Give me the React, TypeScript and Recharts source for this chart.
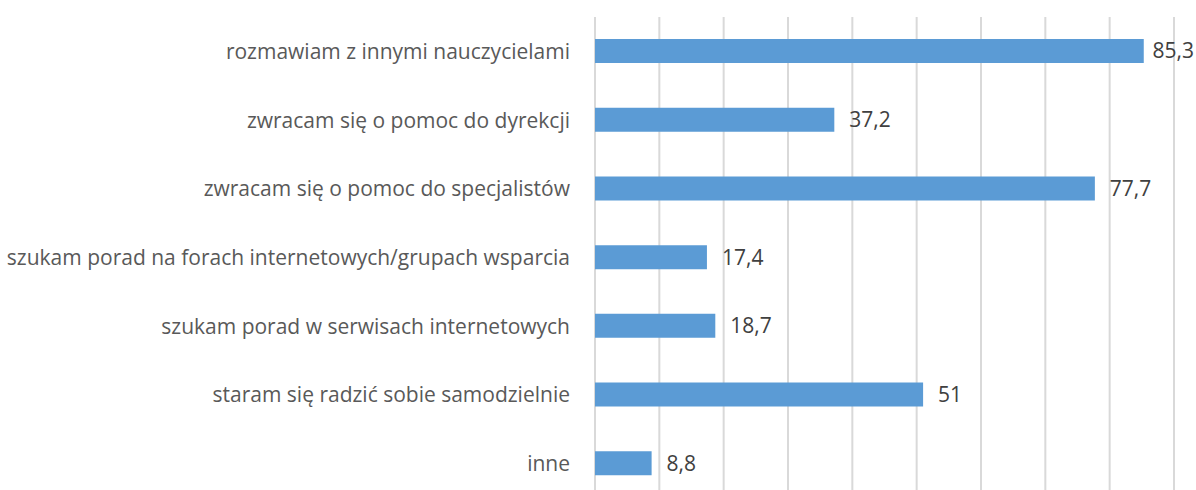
import { BarChart, Bar, XAxis, YAxis, CartesianGrid, LabelList } from 'recharts';

const kategorie = [
  'rozmawiam z innymi nauczycielami ',
  'zwracam się o pomoc do dyrekcji',
  'zwracam się o pomoc do specjalistów',
  'szukam porad na forach internetowych/grupach wsparcia',
  'szukam porad w serwisach internetowych',
  'staram się radzić sobie samodzielnie',
  'inne',
];

const wartosci = [85.3, 37.2, 77.7, 17.4, 18.7, 51, 8.8];

const podzialka = [0, 10, 20, 30, 40, 50, 60, 70, 80, 90];

const dane = kategorie.map((nazwa, i) => ({ nazwa, wartosc: wartosci[i] }));

const czcionka = '"Open Sans", sans-serif';
const SZEROKOSC = 1196;

const formatLiczby = (v: number | string) => String(v).replace('.', ',');

// etykieta wartości: jak w Excelu, przy braku miejsca dosuwana do prawej krawędzi
const Etykieta = (props: any) => {
  const { x, y, width, height, value } = props;
  const tekst = formatLiczby(value);
  const szacowana = tekst.length * 11;
  let lx = Number(x) + Number(width) + 15;
  let anchor: 'start' | 'end' = 'start';
  if (lx + szacowana > SZEROKOSC - 2) {
    lx = SZEROKOSC - 2;
    anchor = 'end';
  }
  return (
    <text
      x={lx}
      y={Number(y) + Number(height) / 2}
      dy="0.355em"
      textAnchor={anchor}
      fill="#404040"
      fontSize={21}
      fontFamily={czcionka}
    >
      {tekst}
    </text>
  );
};

export default function App() {
  return (
    <div style={{ position: 'absolute', left: 0, top: 0, width: SZEROKOSC, height: 490, overflow: 'hidden', background: '#fff' }}>
      <BarChart
        width={SZEROKOSC}
        height={498}
        data={dane}
        layout="vertical"
        margin={{ top: 17, right: 22, bottom: 0, left: 0 }}
        barCategoryGap={0}
      >
        <CartesianGrid horizontal={false} stroke="#d9d9d9" strokeWidth={2} />
        <XAxis type="number" domain={[0, 90]} ticks={podzialka} hide />
        <YAxis
          type="category"
          dataKey="nazwa"
          width={595}
          axisLine={false}
          tickLine={false}
          tickMargin={19}
          tick={{ fill: '#595959', fontSize: 21, fontFamily: czcionka }}
        />
        <Bar dataKey="wartosc" fill="#5b9bd5" barSize={24} isAnimationActive={false}>
          <LabelList dataKey="wartosc" content={Etykieta} />
        </Bar>
      </BarChart>
    </div>
  );
}
